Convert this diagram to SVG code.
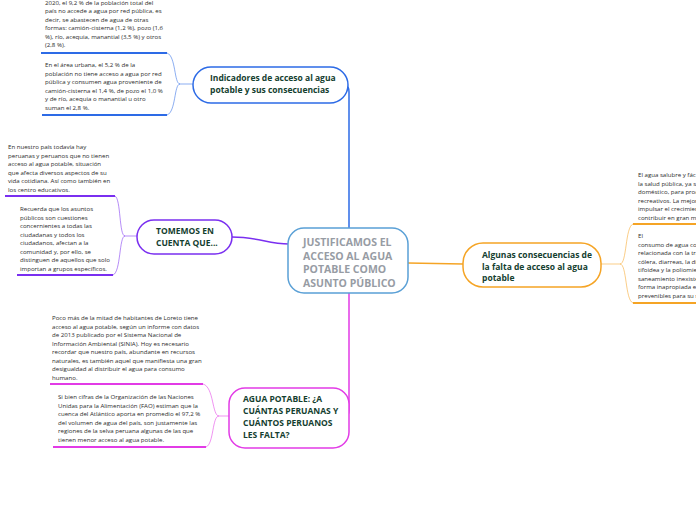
<svg xmlns="http://www.w3.org/2000/svg" width="696" height="520" viewBox="0 0 696 520">
<style>
.t{font-family:"Open Sans","Noto Sans",sans-serif;font-size:6.1px;fill:#2b2b2b}
.n{font-family:"Open Sans","Noto Sans",sans-serif;font-size:8.5px;font-weight:700;fill:#14402f}
.c{font-family:"Open Sans","Noto Sans",sans-serif;font-size:10.5px;font-weight:700;fill:#979ca4}
.box{fill:#fff;stroke-width:1.5}
.ul{fill:none;stroke-width:2}
.br{fill:none;stroke-width:1;opacity:.55}
.ln{fill:none;stroke-width:1.5}
</style>
<rect width="696" height="520" fill="#fff"/>
<g id="connectors">
  <path class="ln" stroke="#2d6be6" d="M349 228 L349 92 Q349 86 346 86"/>
  <path class="ln" stroke="#7a2ff0" d="M232 237 C258 237 268 244 289 244"/>
  <path class="ln" stroke="#f5a425" d="M408 263 L463 264"/>
  <path class="ln" stroke="#e23be6" d="M349 293 L349 410 Q349 416 346 416"/>
  <path class="br" stroke="#2d6be6" d="M193 84 L180 84 C174 84 176 56 167 53"/>
  <path class="br" stroke="#2d6be6" d="M180 84 C174 84 176 112 167 115"/>
  <path class="ul" stroke="#2d6be6" d="M41 53 L167 53"/>
  <path class="ul" stroke="#2d6be6" d="M42 115 L167 115"/>
  <path class="br" stroke="#7a2ff0" d="M137 236 L125 236 C119 236 121 199 115 196"/>
  <path class="br" stroke="#7a2ff0" d="M125 236 C119 236 121 272 113 275"/>
  <path class="ul" stroke="#7a2ff0" d="M5 196 L115 196"/>
  <path class="ul" stroke="#7a2ff0" d="M17 275 L113 275"/>
  <path class="br" stroke="#f5a425" d="M600 264 L620 264 C627 264 625 227 633 224"/>
  <path class="br" stroke="#f5a425" d="M620 264 C627 264 625 300 633 303"/>
  <path class="ul" stroke="#f5a425" d="M633 224 L696 224"/>
  <path class="ul" stroke="#f5a425" d="M633 303 L696 303"/>
  <path class="br" stroke="#e23be6" d="M229 416 L219 416 C212 416 214 387 203 384"/>
  <path class="br" stroke="#e23be6" d="M219 416 C212 416 214 444 206 447"/>
  <path class="ul" stroke="#e23be6" d="M50 384 L203 384"/>
  <path class="ul" stroke="#e23be6" d="M53 447 L206 447"/>
</g>
<g id="central">
  <rect class="box" x="288" y="228" width="120" height="65" rx="16" stroke="#5aa0d6"/>
  <text class="c" x="303" y="246">JUSTIFICAMOS EL</text>
  <text class="c" x="303" y="259.5">ACCESO AL AGUA</text>
  <text class="c" x="303" y="273">POTABLE COMO</text>
  <text class="c" x="303" y="286.5">ASUNTO PÚBLICO</text>
</g>
<g id="indicadores">
  <rect class="box" x="193" y="67" width="155" height="36" rx="18" stroke="#2d6be6"/>
  <text class="n" x="210" y="81">Indicadores de acceso al agua</text>
  <text class="n" x="210" y="93">potable y sus consecuencias</text>
</g>
<g id="ind-text1">
  <text class="t" x="45" y="5">2020, el 9,2 % de la población total del</text>
  <text class="t" x="45" y="13.4">país no accede a agua por red pública, es</text>
  <text class="t" x="45" y="21.8">decir, se abastecen de agua de otras</text>
  <text class="t" x="45" y="30.2">formas: camión-cisterna (1,2 %), pozo (1,6</text>
  <text class="t" x="45" y="38.6">%), río, acequia, manantial (3,5 %) y otros</text>
  <text class="t" x="45" y="47">(2,8 %).</text>
</g>
<g id="ind-text2">
  <text class="t" x="45" y="67">En el área urbana, el 5,2 % de la</text>
  <text class="t" x="45" y="75.6">población no tiene acceso a agua por red</text>
  <text class="t" x="45" y="84.2">pública y consumen agua proveniente de</text>
  <text class="t" x="45" y="92.8">camión-cisterna el 1,4 %, de pozo el 1,0 %</text>
  <text class="t" x="45" y="101.4">y de río, acequia o manantial u otro</text>
  <text class="t" x="45" y="110">suman el 2,8 %.</text>
</g>
<g id="tomemos">
  <rect class="box" x="137" y="220" width="95" height="34" rx="17" stroke="#7a2ff0"/>
  <text class="n" x="156" y="234">TOMEMOS EN</text>
  <text class="n" x="156" y="246">CUENTA QUE...</text>
</g>
<g id="tom-text1">
  <text class="t" x="8" y="149">En nuestro país todavía hay</text>
  <text class="t" x="8" y="157.5">peruanas y peruanos que no tienen</text>
  <text class="t" x="8" y="166">acceso al agua potable, situación</text>
  <text class="t" x="8" y="174.5">que afecta diversos aspectos de su</text>
  <text class="t" x="8" y="183">vida cotidiana. Así como también en</text>
  <text class="t" x="8" y="191.5">los centro educativos.</text>
</g>
<g id="tom-text2">
  <text class="t" x="20" y="211">Recuerda que los asuntos</text>
  <text class="t" x="20" y="219.5">públicos son cuestiones</text>
  <text class="t" x="20" y="228">concernientes a todas las</text>
  <text class="t" x="20" y="236.5">ciudadanas y todos los</text>
  <text class="t" x="20" y="245">ciudadanos, afectan a la</text>
  <text class="t" x="20" y="253.5">comunidad y, por ello, se</text>
  <text class="t" x="20" y="262">distinguen de aquellos que solo</text>
  <text class="t" x="20" y="270.5">importan a grupos específicos.</text>
</g>
<g id="consecuencias">
  <rect class="box" x="463" y="243" width="138" height="44" rx="20" stroke="#f5a425"/>
  <text class="n" x="482" y="258">Algunas consecuencias de</text>
  <text class="n" x="482" y="269.5">la falta de acceso al agua</text>
  <text class="n" x="482" y="281">potable</text>
</g>
<g id="cons-text1">
  <text class="t" x="638" y="177">El agua salubre y fác</text>
  <text class="t" x="638" y="185.5">la salud pública, ya se</text>
  <text class="t" x="638" y="194">doméstico, para prod</text>
  <text class="t" x="638" y="202.5">recreativos. La mejor</text>
  <text class="t" x="638" y="211">impulsar el crecimien</text>
  <text class="t" x="638" y="219.5">contribuir en gran me</text>
</g>
<g id="cons-text2">
  <text class="t" x="638" y="238">El</text>
  <text class="t" x="638" y="246.5"> consumo de agua co</text>
  <text class="t" x="638" y="255">relacionada con la tra</text>
  <text class="t" x="638" y="263.5">cólera, diarreas, la di</text>
  <text class="t" x="638" y="272">tifoidea y la poliomie</text>
  <text class="t" x="638" y="280.5">saneamiento inexiste</text>
  <text class="t" x="638" y="289">forma inapropiada e</text>
  <text class="t" x="638" y="297.5">prevenibles para su s</text>
</g>
<g id="agua">
  <rect class="box" x="229" y="388" width="120" height="60" rx="16" stroke="#e23be6"/>
  <text class="n" x="243" y="402">AGUA POTABLE: ¿A</text>
  <text class="n" x="243" y="414">CUÁNTAS PERUANAS Y</text>
  <text class="n" x="243" y="426">CUÁNTOS PERUANOS</text>
  <text class="n" x="243" y="438">LES FALTA?</text>
</g>
<g id="agua-text1">
  <text class="t" x="52" y="320">Poco más de la mitad de habitantes de Loreto tiene</text>
  <text class="t" x="52" y="328.5">acceso al agua potable, según un informe con datos</text>
  <text class="t" x="52" y="337">de 2013 publicado por el Sistema Nacional de</text>
  <text class="t" x="52" y="345.5">Información Ambiental (SINIA). Hoy es necesario</text>
  <text class="t" x="52" y="354">recordar que nuestro país, abundante en recursos</text>
  <text class="t" x="52" y="362.5">naturales, es también aquel que manifiesta una gran</text>
  <text class="t" x="52" y="371">desigualdad al distribuir el agua para consumo</text>
  <text class="t" x="52" y="379.5">humano.</text>
</g>
<g id="agua-text2">
  <text class="t" x="58" y="399">Si bien cifras de la Organización de las Naciones</text>
  <text class="t" x="58" y="407.5">Unidas para la Alimentación (FAO) estiman que la</text>
  <text class="t" x="58" y="416">cuenca del Atlántico aporta en promedio el 97,2 %</text>
  <text class="t" x="58" y="424.5">del volumen de agua del país, son justamente las</text>
  <text class="t" x="58" y="433">regiones de la selva peruana algunas de las que</text>
  <text class="t" x="58" y="441.5">tienen menor acceso al agua potable.</text>
</g>
</svg>
